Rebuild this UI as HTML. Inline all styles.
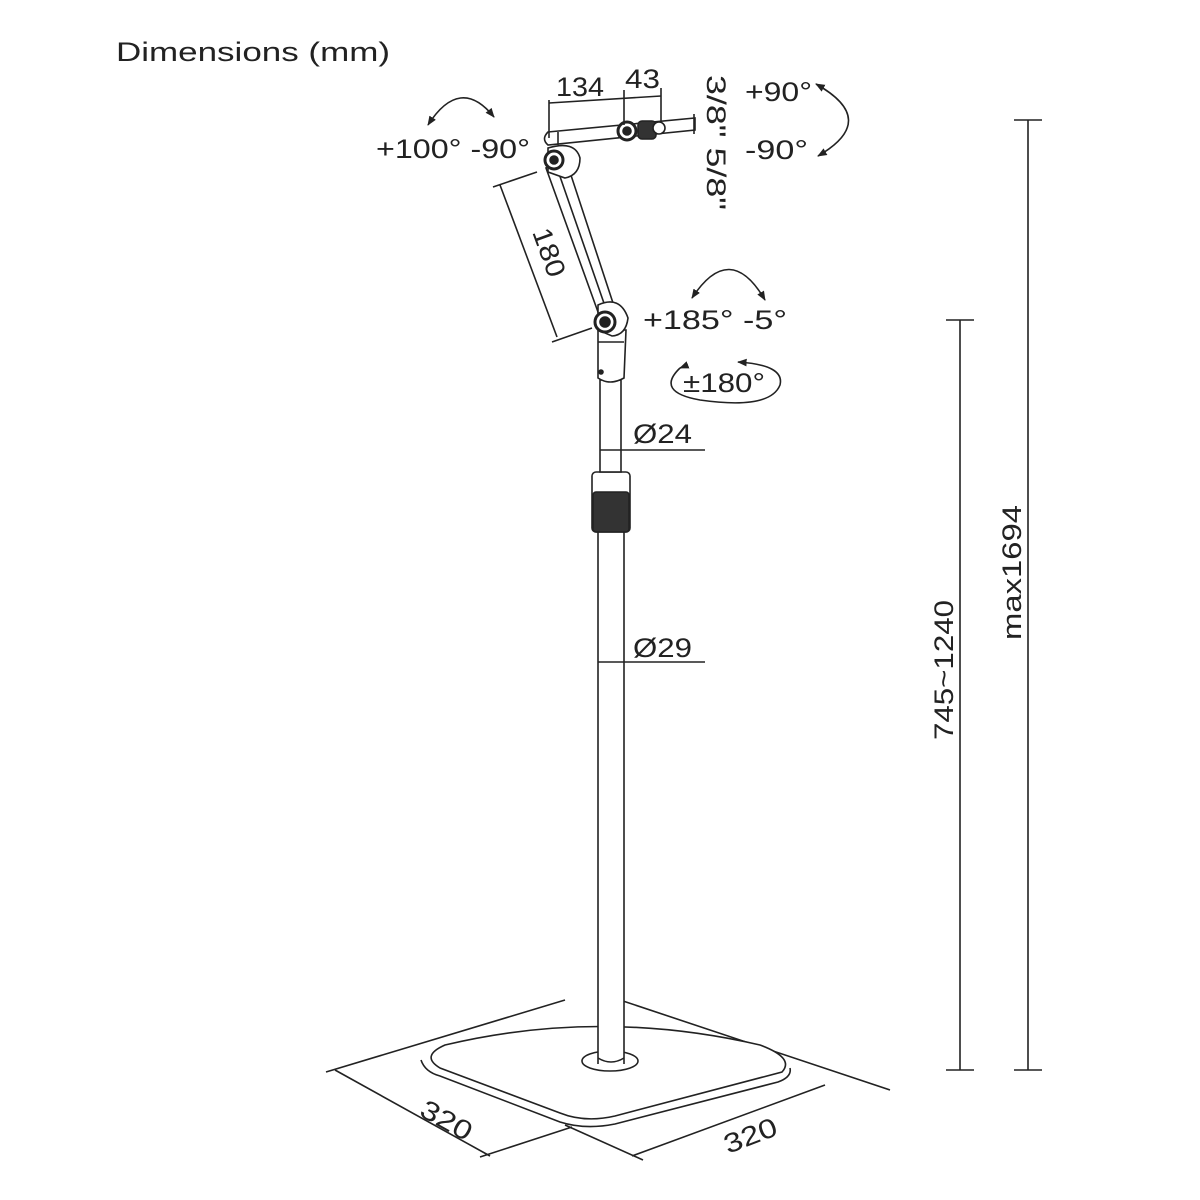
<!DOCTYPE html>
<html><head><meta charset="utf-8"><style>
html,body{margin:0;padding:0;background:#fff;}
svg{display:block;}
text{font-family:"Liberation Sans",sans-serif;fill:#222;}
</style></head><body>
<svg width="1200" height="1200" viewBox="0 0 1200 1200" xmlns="http://www.w3.org/2000/svg">
<defs>
<marker id="ah" viewBox="0 0 10 10" refX="9" refY="5" markerWidth="6" markerHeight="6" orient="auto-start-reverse"><path d="M0,1 L10,5 L0,9 Z" fill="#222"/></marker>
</defs>
<text x="116" y="61" font-size="27" fill="#333" textLength="274" lengthAdjust="spacingAndGlyphs">Dimensions (mm)</text>
<g stroke="#222" stroke-width="1.6" fill="none">
<line x1="326" y1="1072" x2="565" y2="1000"/>
<line x1="620" y1="1000" x2="890" y2="1090"/>
<line x1="335" y1="1070" x2="490" y2="1156"/>
<line x1="480" y1="1157" x2="572" y2="1127"/>
<line x1="565" y1="1125" x2="643" y2="1160"/>
<line x1="632" y1="1156" x2="825" y2="1085"/>
<path d="M445,1045 Q600,1008 760,1045 Q795,1058 782,1072 L615,1116 Q585,1123 560,1113 L440,1068 Q420,1056 445,1045 Z" fill="#fff"/>
<path d="M421,1060 Q425,1072 440,1076 L560,1122 Q585,1130 615,1124 L778,1082 Q792,1077 790,1068"/>
<ellipse cx="610" cy="1061" rx="28" ry="10" fill="#fff"/>
<path d="M598,1064 L598,530 L624,530 L624,1064" fill="#fff"/>
<path d="M598,1058 Q611,1066 624,1058"/>
<rect x="592" y="472" width="38" height="60" rx="4" fill="#fff"/>
<rect x="593" y="492" width="36" height="40" rx="3" fill="#333"/>
<rect x="600" y="380" width="21" height="92" fill="#fff"/>
<path d="M598,330 L598,378 Q610,386 624,378 L626,330 Z" fill="#fff"/>
<line x1="598" y1="342" x2="624" y2="342"/>
<circle cx="601" cy="372" r="2" fill="#222"/>
<path d="M546,168 L598,312 L614,306 L566,160 Z" fill="#fff"/>
<line x1="556" y1="165" x2="606" y2="309"/>
<path d="M598,305 Q620,295 628,318 Q626,335 612,336 L598,330 Z" fill="#fff"/>
<circle cx="605" cy="322" r="10" fill="#fff" stroke-width="3"/>
<circle cx="605" cy="322" r="5" fill="#222"/>
<path d="M548,148 Q575,140 580,158 Q580,175 565,178 L548,172 Z" fill="#fff"/>
<circle cx="554" cy="160" r="9" fill="#fff" stroke-width="3"/>
<circle cx="554" cy="160" r="4" fill="#222"/>
<path d="M548,132 L695,118 L695,130 L548,145 Q541,139 548,132 Z" fill="#fff"/>
<line x1="558" y1="132" x2="558" y2="145"/>
<circle cx="627" cy="131" r="9" fill="#fff" stroke-width="3"/>
<circle cx="627" cy="131" r="4" fill="#222"/>
<rect x="638" y="121" width="18" height="18" rx="4" fill="#333"/>
<circle cx="659" cy="128" r="6" fill="#fff"/>
<line x1="694" y1="114" x2="694" y2="134"/>
<line x1="549" y1="100" x2="549" y2="138"/>
<line x1="624" y1="90" x2="624" y2="125"/>
<line x1="661" y1="88" x2="661" y2="122"/>
<line x1="549" y1="103" x2="661" y2="96"/>
<line x1="493" y1="187" x2="537" y2="172"/>
<line x1="500" y1="185" x2="557" y2="337"/>
<line x1="552" y1="342" x2="592" y2="328"/>
<line x1="600" y1="450" x2="705" y2="450"/>
<line x1="598" y1="662" x2="705" y2="662"/>
<line x1="1028" y1="120" x2="1028" y2="1070"/>
<line x1="1014" y1="120" x2="1042" y2="120"/>
<line x1="1014" y1="1070" x2="1042" y2="1070"/>
<line x1="960" y1="320" x2="960" y2="1070"/>
<line x1="946" y1="320" x2="974" y2="320"/>
<line x1="946" y1="1070" x2="974" y2="1070"/>
<path d="M428,125 Q460,75 494,117" marker-start="url(#ah)" marker-end="url(#ah)"/>
<path d="M816,84 Q880,120 818,156" marker-start="url(#ah)" marker-end="url(#ah)"/>
<path d="M692,298 Q730,240 765,300" marker-start="url(#ah)" marker-end="url(#ah)"/>
<path d="M680,368 Q655,392 700,400 Q770,410 780,385 Q785,365 738,362" marker-end="url(#ah)"/>
<path d="M680,368 L685,366" marker-start="url(#ah)"/>
</g>
<g font-size="27">
<text x="556" y="96" textLength="48" lengthAdjust="spacingAndGlyphs">134</text>
<text x="625" y="88" textLength="35" lengthAdjust="spacingAndGlyphs">43</text>
<text x="376" y="158" textLength="154" lengthAdjust="spacingAndGlyphs">+100°  -90°</text>
<text x="745" y="101" textLength="67" lengthAdjust="spacingAndGlyphs">+90°</text>
<text x="745" y="159" textLength="63" lengthAdjust="spacingAndGlyphs">-90°</text>
<text x="643" y="329" textLength="144" lengthAdjust="spacingAndGlyphs">+185°  -5°</text>
<text x="683" y="392" textLength="82" lengthAdjust="spacingAndGlyphs">±180°</text>
<text x="633" y="443" textLength="59" lengthAdjust="spacingAndGlyphs">Ø24</text>
<text x="633" y="657" textLength="59" lengthAdjust="spacingAndGlyphs">Ø29</text>
<text transform="translate(707,75) rotate(90)" textLength="135" lengthAdjust="spacingAndGlyphs">3/8" 5/8"</text>
<text transform="translate(532,232) rotate(70)" textLength="50" lengthAdjust="spacingAndGlyphs">180</text>
<text transform="translate(1021,640) rotate(-90)" textLength="135" lengthAdjust="spacingAndGlyphs">max1694</text>
<text transform="translate(953,740) rotate(-90)" textLength="140" lengthAdjust="spacingAndGlyphs">745~1240</text>
<text transform="translate(418,1115) rotate(29)" textLength="55" lengthAdjust="spacingAndGlyphs">320</text>
<text transform="translate(728,1154) rotate(-21)" textLength="55" lengthAdjust="spacingAndGlyphs">320</text>
</g>
</svg>
</body></html>
